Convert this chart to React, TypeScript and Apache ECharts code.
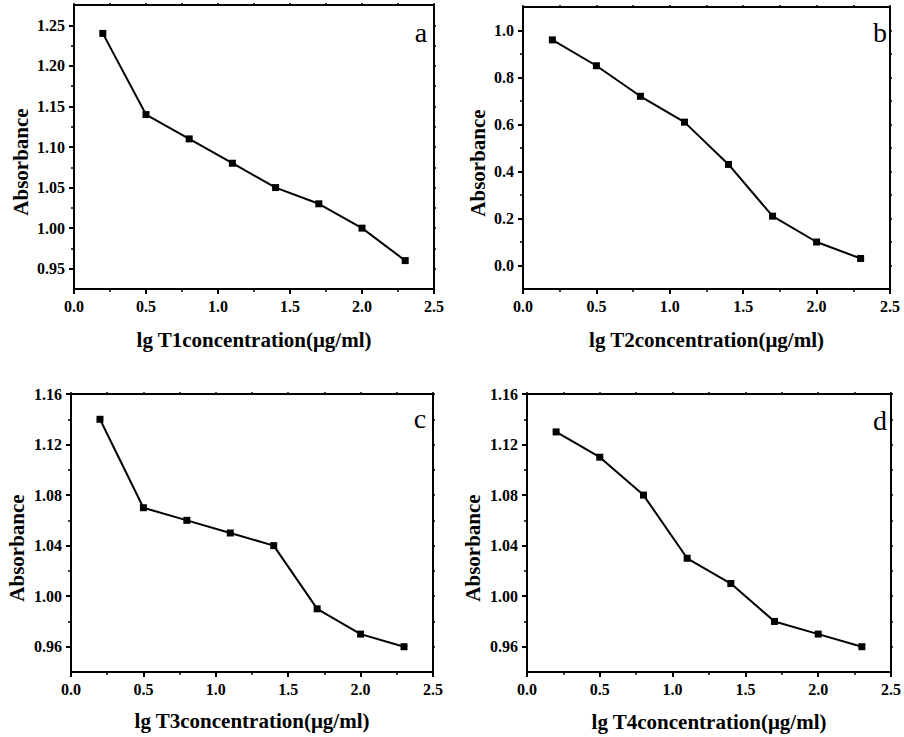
import React, { useEffect, useRef } from "react";
import * as echarts from "echarts";

// ---- data ----
const X_VALUES = [0.2, 0.5, 0.8, 1.1, 1.4, 1.7, 2.0, 2.3];
const ABS_T1 = [1.24, 1.14, 1.11, 1.08, 1.05, 1.03, 1.0, 0.96];
const ABS_T2 = [0.96, 0.85, 0.72, 0.61, 0.43, 0.21, 0.1, 0.03];
const ABS_T3 = [1.14, 1.07, 1.06, 1.05, 1.04, 0.99, 0.97, 0.96];
const ABS_T4 = [1.13, 1.11, 1.08, 1.03, 1.01, 0.98, 0.97, 0.96];

const PANEL_LETTERS = ["a", "b", "c", "d"];
const X_NAMES = [
  "lg T1concentration(μg/ml)",
  "lg T2concentration(μg/ml)",
  "lg T3concentration(μg/ml)",
  "lg T4concentration(μg/ml)",
];
const Y_NAME = "Absorbance";

const X_RANGE = [0, 2.5];
const X_MAJOR_STEP = 0.5;

const Y_RANGE_A = [0.925, 1.275];
const Y_MAJOR_A = [0.95, 1.0, 1.05, 1.1, 1.15, 1.2, 1.25];
const Y_MINOR_A = [0.975, 1.025, 1.075, 1.125, 1.175, 1.225];

const Y_RANGE_B = [-0.1, 1.1];
const Y_MAJOR_B = [0.0, 0.2, 0.4, 0.6, 0.8, 1.0];
const Y_MINOR_B = [0.1, 0.3, 0.5, 0.7, 0.9];

const Y_RANGE_CD = [0.94, 1.16];
const Y_MAJOR_CD = [0.96, 1.0, 1.04, 1.08, 1.12, 1.16];
const Y_MINOR_CD = [0.98, 1.02, 1.06, 1.1, 1.14];

const FONT = "Liberation Serif";

const PANELS = [
  { values: ABS_T1, yRange: Y_RANGE_A, yMajor: Y_MAJOR_A, yMinor: Y_MINOR_A, digits: 2,
    grid: { left: 74, top: 5, width: 360, height: 284 }, yGap: 43, xGap: 40, letterPos: [421, 32] },
  { values: ABS_T2, yRange: Y_RANGE_B, yMajor: Y_MAJOR_B, yMinor: Y_MINOR_B, digits: 1,
    grid: { left: 523, top: 7, width: 367, height: 282 }, yGap: 35, xGap: 40, letterPos: [880, 32] },
  { values: ABS_T3, yRange: Y_RANGE_CD, yMajor: Y_MAJOR_CD, yMinor: Y_MINOR_CD, digits: 2,
    grid: { left: 71, top: 394, width: 362, height: 278 }, yGap: 44, xGap: 38, letterPos: [420, 418] },
  { values: ABS_T4, yRange: Y_RANGE_CD, yMajor: Y_MAJOR_CD, yMinor: Y_MINOR_CD, digits: 2,
    grid: { left: 527, top: 394, width: 366, height: 278 }, yGap: 44, xGap: 39, letterPos: [880, 420] },
];

const black = "#000";
const mkAxisLine = () => ({ show: true, onZero: false, lineStyle: { color: black, width: 2 } });

function buildOption() {
  const grids: any[] = [];
  const xAxes: any[] = [];
  const yAxes: any[] = [];
  const series: any[] = [];
  const graphics: any[] = [];

  PANELS.forEach((p, gi) => {
    grids.push({ ...p.grid, containLabel: false });
    // bottom x axis
    xAxes.push({
      gridIndex: gi,
      type: "value",
      position: "bottom",
      min: X_RANGE[0],
      max: X_RANGE[1],
      interval: X_MAJOR_STEP,
      axisLine: mkAxisLine(),
      axisTick: { show: true, length: 5, lineStyle: { color: black, width: 2 } },
      minorTick: { show: true, splitNumber: 2, length: 3, lineStyle: { color: black, width: 1.5 } },
      splitLine: { show: false },
      axisLabel: {
        margin: 9,
        color: black,
        fontFamily: FONT,
        fontWeight: "bold",
        fontSize: 16,
        formatter: (v: number) => v.toFixed(1),
      },
      name: X_NAMES[gi],
      nameLocation: "middle",
      nameGap: p.xGap,
      nameTextStyle: { color: black, fontFamily: FONT, fontWeight: "bold", fontSize: 21 },
    });
    // top x axis (frame)
    xAxes.push({
      gridIndex: gi,
      type: "value",
      position: "top",
      min: X_RANGE[0],
      max: X_RANGE[1],
      interval: 0.25,
      axisLine: mkAxisLine(),
      axisTick: { show: true, length: 2, lineStyle: { color: black, width: 1.5 } },
      axisLabel: { show: false },
      splitLine: { show: false },
    });
    // left y axis main
    yAxes.push({
      gridIndex: gi,
      type: "value",
      position: "left",
      min: p.yRange[0],
      max: p.yRange[1],
      axisLine: mkAxisLine(),
      axisTick: { show: true, length: 5, customValues: p.yMajor, lineStyle: { color: black, width: 2 } },
      axisLabel: {
        margin: 9,
        color: black,
        fontFamily: FONT,
        fontWeight: "bold",
        fontSize: 16,
        customValues: p.yMajor,
        formatter: (v: number) => v.toFixed(p.digits),
      },
      splitLine: { show: false },
      name: Y_NAME,
      nameLocation: "middle",
      nameGap: p.yGap,
      nameTextStyle: {
        color: black,
        fontFamily: FONT,
        fontWeight: "bold",
        fontSize: 21,
        padding: [0, 30, 0, 0],
      },
    });
    // left y minor ticks
    yAxes.push({
      gridIndex: gi,
      type: "value",
      position: "left",
      min: p.yRange[0],
      max: p.yRange[1],
      axisLine: { show: false, onZero: false },
      axisTick: { show: true, length: 3, customValues: p.yMinor, lineStyle: { color: black, width: 1.5 } },
      axisLabel: { show: false },
      splitLine: { show: false },
    });
    // right y axis (frame)
    yAxes.push({
      gridIndex: gi,
      type: "value",
      position: "right",
      min: p.yRange[0],
      max: p.yRange[1],
      axisLine: mkAxisLine(),
      axisTick: {
        show: true,
        length: 2,
        customValues: [...p.yMajor, ...p.yMinor],
        lineStyle: { color: black, width: 1.5 },
      },
      axisLabel: { show: false },
      splitLine: { show: false },
    });

    series.push({
      type: "line",
      xAxisIndex: gi * 2,
      yAxisIndex: gi * 3,
      data: X_VALUES.map((x, i) => [x, p.values[i]]),
      symbol: "rect",
      symbolSize: 7,
      itemStyle: { color: black },
      lineStyle: { color: black, width: 2 },
      showSymbol: true,
    });

    graphics.push({
      type: "text",
      x: p.letterPos[0],
      y: p.letterPos[1],
      style: {
        text: PANEL_LETTERS[gi],
        fill: black,
        fontFamily: FONT,
        fontSize: 28,
        fontWeight: "normal",
        align: "center",
        verticalAlign: "middle",
      },
    });
  });

  return {
    animation: false,
    backgroundColor: "#fff",
    grid: grids,
    xAxis: xAxes,
    yAxis: yAxes,
    series,
    graphic: graphics,
  };
}

export default function App() {
  const ref = useRef<HTMLDivElement>(null);
  useEffect(() => {
    if (!ref.current) return;
    const chart = echarts.init(ref.current, undefined, { renderer: "svg" });
    chart.setOption(buildOption() as any);
    return () => chart.dispose();
  }, []);
  return (
    <div
      ref={ref}
      style={{ position: "absolute", left: 0, top: 0, width: 904, height: 737, background: "#fff" }}
    />
  );
}
